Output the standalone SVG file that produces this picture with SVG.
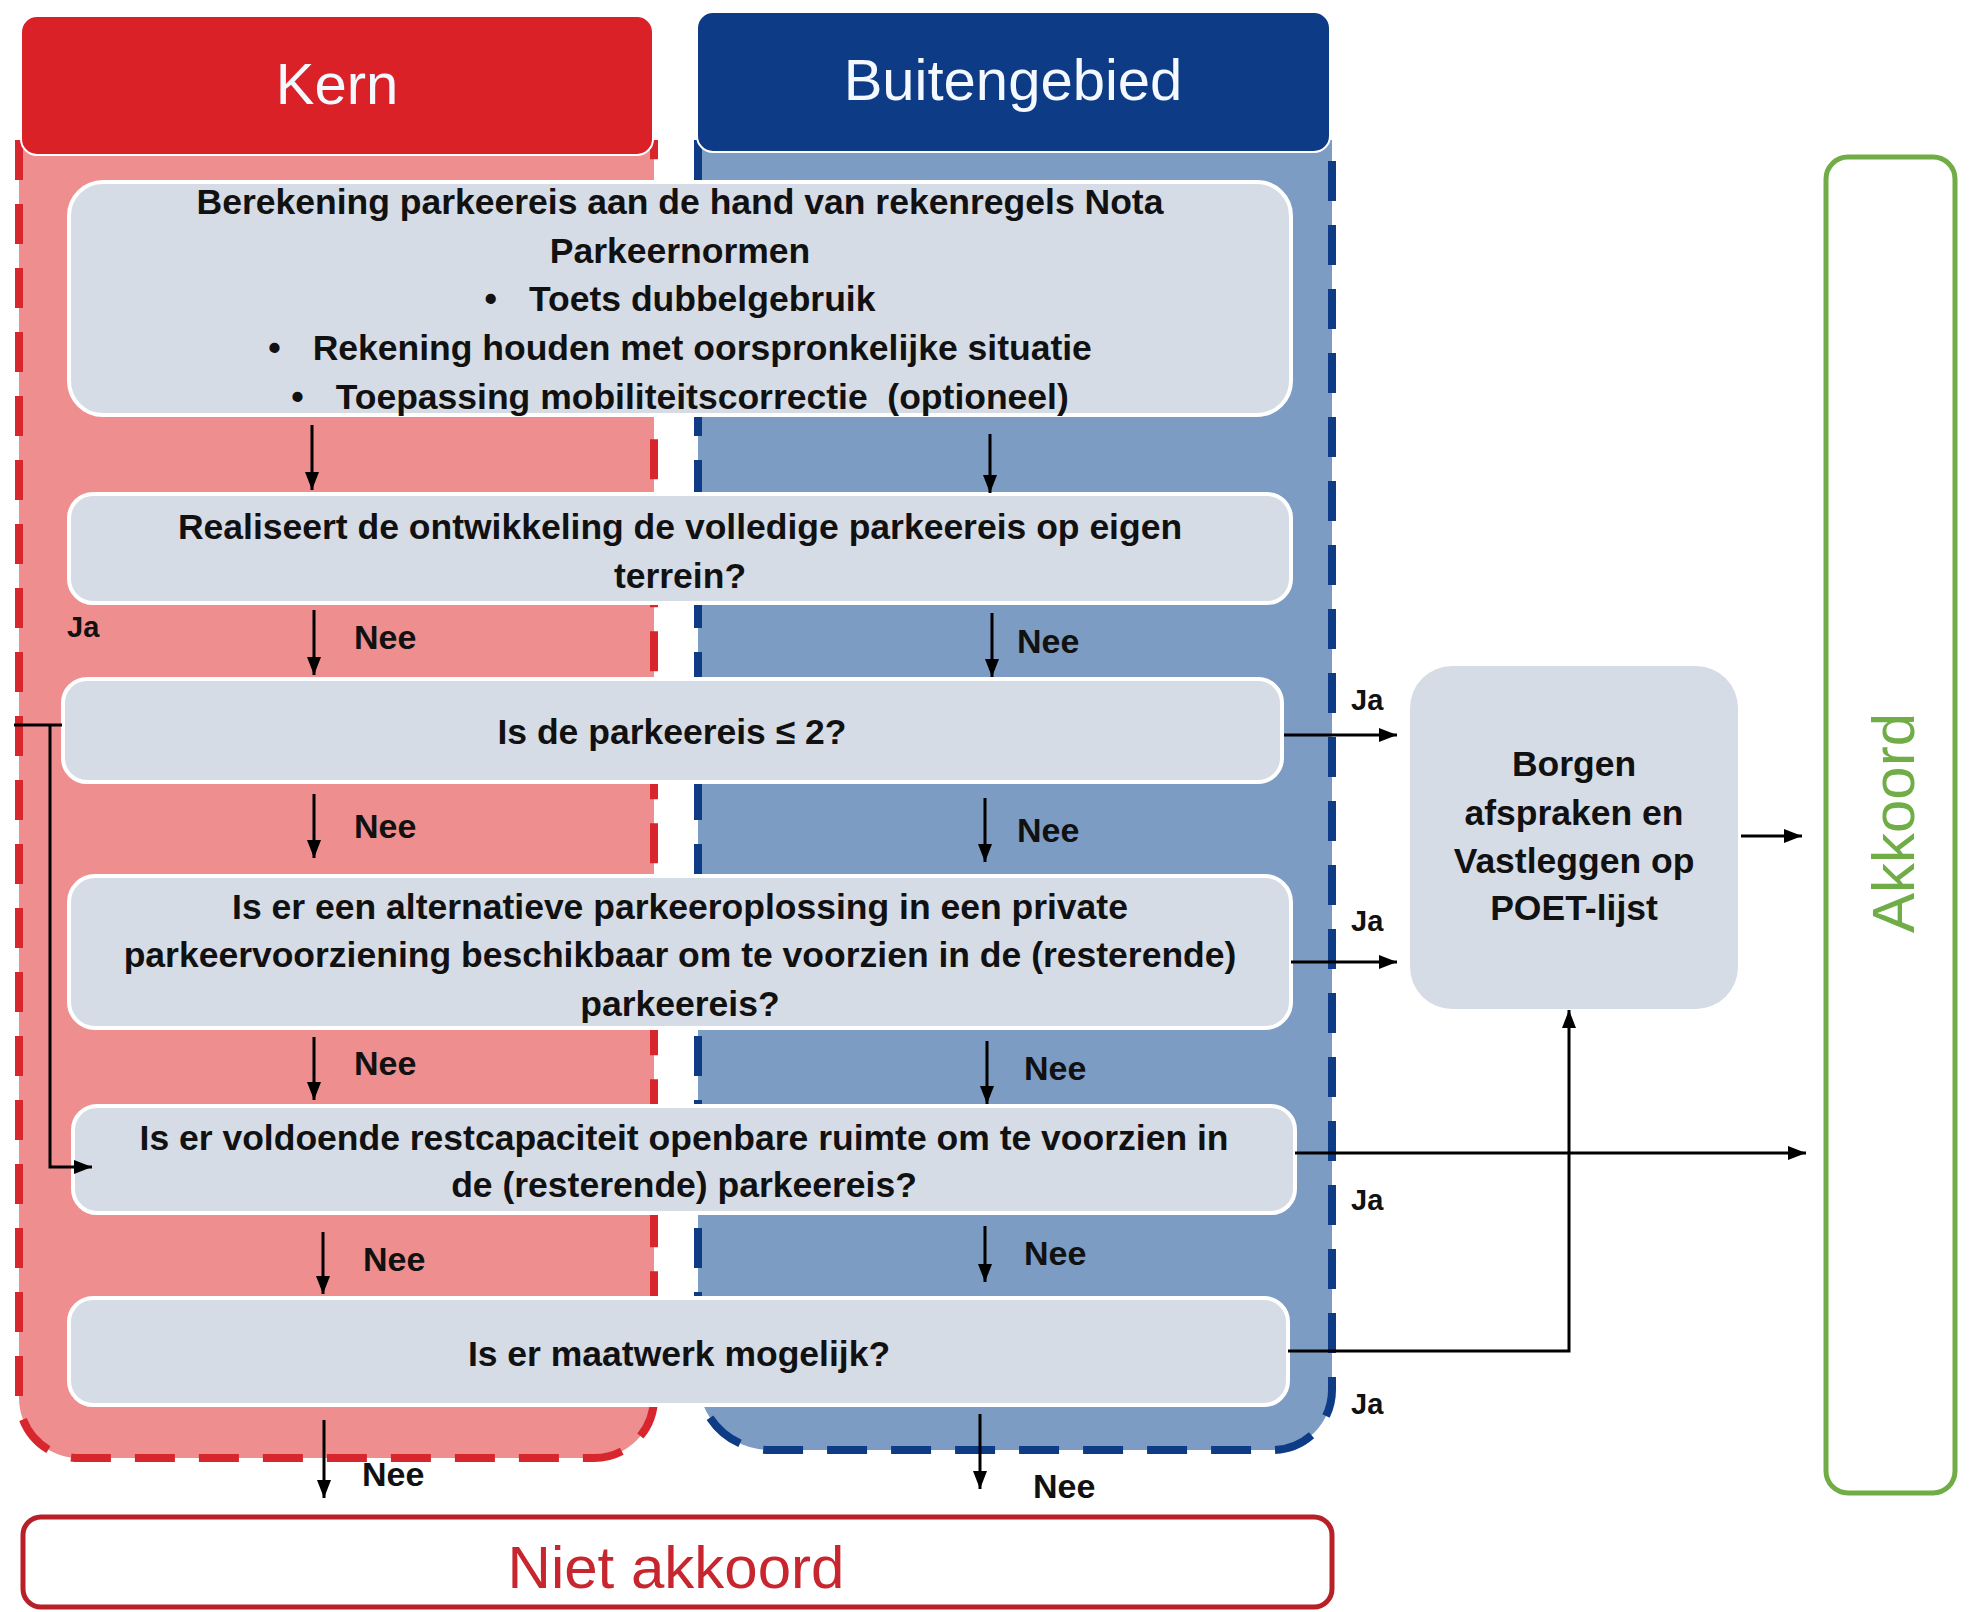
<svg xmlns="http://www.w3.org/2000/svg" width="1971" height="1612" viewBox="0 0 1971 1612">
<defs>
<marker id="ah" markerWidth="18" markerHeight="16" refX="18" refY="8" orient="auto" markerUnits="userSpaceOnUse"><path d="M0,1 L18,8 L0,15 z" fill="#000"/></marker>
</defs>
<style>
.t{font-family:"Liberation Sans",Arial,sans-serif;font-weight:bold;font-size:35.5px;fill:#111;text-anchor:middle}
.lbl{font-family:"Liberation Sans",Arial,sans-serif;font-weight:bold;font-size:34px;fill:#111}
.ja{font-family:"Liberation Sans",Arial,sans-serif;font-weight:bold;font-size:29px;fill:#111}
.hd{font-family:"Liberation Sans",Arial,sans-serif;font-size:58px;fill:#F4F8FF;text-anchor:middle}
.box{fill:#D6DCE6;stroke:#FFFFFF;stroke-width:4}
.c{fill:none;stroke:#000;stroke-width:3;marker-end:url(#ah)}
.cl{fill:none;stroke:#000;stroke-width:3}
</style>
<rect width="1971" height="1612" fill="#FFFFFF"/>

<g id="kern-lane">
<path d="M19,140 V1398 A60,60 0 0 0 79,1458 H594 A60,60 0 0 0 654,1398 V140" fill="#EE8E8E" stroke="#D8262E" stroke-width="8" stroke-dasharray="40 24"/>
<rect x="21" y="16" width="632" height="139" rx="16" fill="#DA2128" stroke="#FFFFFF" stroke-width="2"/>
<text class="hd" x="337" y="104">Kern</text>
</g>

<g id="buiten-lane">
<path d="M698,140 V1378 A72,72 0 0 0 770,1450 H1272 A60,60 0 0 0 1332,1390 V140" fill="#7C9CC4" stroke="#0D3B85" stroke-width="8" stroke-dasharray="40 24"/>
<rect x="697" y="12" width="633" height="140" rx="16" fill="#0D3B85" stroke="#FFFFFF" stroke-width="2"/>
<text class="hd" x="1013" y="100">Buitengebied</text>
</g>

<g id="box1">
<rect class="box" x="69" y="182" width="1222" height="233" rx="34"/>
<text class="t" x="680" y="214">Berekening parkeereis aan de hand van rekenregels Nota</text>
<text class="t" x="680" y="263">Parkeernormen</text>
<text class="t" x="680" y="311">•<tspan dx="32">Toets dubbelgebruik</tspan></text>
<text class="t" x="680" y="360">•<tspan dx="32">Rekening houden met oorspronkelijke situatie</tspan></text>
<text class="t" x="680" y="409" xml:space="preserve">•<tspan dx="32">Toepassing mobiliteitscorrectie  (optioneel)</tspan></text>
</g>

<g id="box2">
<rect class="box" x="69" y="494" width="1222" height="109" rx="24"/>
<text class="t" x="680" y="539">Realiseert de ontwikkeling de volledige parkeereis op eigen</text>
<text class="t" x="680" y="588">terrein?</text>
</g>

<g id="box3">
<rect class="box" x="63" y="679" width="1219" height="103" rx="24"/>
<text class="t" x="672" y="744">Is de parkeereis ≤ 2?</text>
</g>

<g id="box4">
<rect class="box" x="69" y="876" width="1222" height="152" rx="26"/>
<text class="t" x="680" y="919">Is er een alternatieve parkeeroplossing in een private</text>
<text class="t" x="680" y="967">parkeervoorziening beschikbaar om te voorzien in de (resterende)</text>
<text class="t" x="680" y="1016">parkeereis?</text>
</g>

<g id="box5">
<rect class="box" x="73" y="1106" width="1222" height="107" rx="24"/>
<text class="t" x="684" y="1150">Is er voldoende restcapaciteit openbare ruimte om te voorzien in</text>
<text class="t" x="684" y="1197">de (resterende) parkeereis?</text>
</g>

<g id="box6">
<rect class="box" x="69" y="1298" width="1219" height="107" rx="24"/>
<text class="t" x="679" y="1366">Is er maatwerk mogelijk?</text>
</g>

<g id="borgen">
<rect x="1410" y="666" width="328" height="343" rx="42" fill="#D6DCE6"/>
<text class="t" x="1574" y="776">Borgen</text>
<text class="t" x="1574" y="825">afspraken en</text>
<text class="t" x="1574" y="873">Vastleggen op</text>
<text class="t" x="1574" y="920">POET-lijst</text>
</g>

<g id="akkoord">
<rect x="1826" y="157" width="129" height="1336" rx="22" fill="#FFFFFF" stroke="#70AD47" stroke-width="5"/>
<text x="0" y="0" transform="translate(1914,823) rotate(-90)" font-family="Liberation Sans, Arial, sans-serif" font-size="60" fill="#70AD47" text-anchor="middle">Akkoord</text>
</g>

<g id="niet-akkoord">
<rect x="23" y="1517" width="1309" height="90" rx="18" fill="#FFFFFF" stroke="#B82028" stroke-width="5"/>
<text x="676" y="1588" font-family="Liberation Sans, Arial, sans-serif" font-size="60" fill="#C8262E" text-anchor="middle">Niet akkoord</text>
</g>

<g id="connectors">
<line class="c" x1="312" y1="425" x2="312" y2="490"/>
<line class="c" x1="990" y1="434" x2="990" y2="493"/>
<line class="c" x1="314" y1="610" x2="314" y2="675"/>
<line class="c" x1="992" y1="613" x2="992" y2="677"/>
<line class="c" x1="314" y1="794" x2="314" y2="858"/>
<line class="c" x1="985" y1="798" x2="985" y2="862"/>
<line class="c" x1="314" y1="1037" x2="314" y2="1100"/>
<line class="c" x1="987" y1="1041" x2="987" y2="1104"/>
<line class="c" x1="323" y1="1232" x2="323" y2="1294"/>
<line class="c" x1="985" y1="1226" x2="985" y2="1282"/>
<line class="c" x1="324" y1="1420" x2="324" y2="1498"/>
<line class="c" x1="980" y1="1414" x2="980" y2="1489"/>
<line class="c" x1="1284" y1="735" x2="1397" y2="735"/>
<line class="c" x1="1291" y1="962" x2="1397" y2="962"/>
<line class="c" x1="1295" y1="1153" x2="1806" y2="1153"/>
<polyline class="c" points="1288,1351 1569,1351 1569,1010"/>
<line class="c" x1="1741" y1="836" x2="1802" y2="836"/>
<line class="cl" x1="14" y1="725" x2="62" y2="725"/>
<polyline class="c" points="50,725 50,1167 92,1167"/>
</g>

<g id="labels">
<text class="ja" x="67" y="637">Ja</text>
<text class="lbl" x="354" y="649">Nee</text>
<text class="lbl" x="1017" y="653">Nee</text>
<text class="lbl" x="354" y="838">Nee</text>
<text class="lbl" x="1017" y="842">Nee</text>
<text class="lbl" x="354" y="1075">Nee</text>
<text class="lbl" x="1024" y="1080">Nee</text>
<text class="lbl" x="363" y="1271">Nee</text>
<text class="lbl" x="1024" y="1265">Nee</text>
<text class="lbl" x="362" y="1486">Nee</text>
<text class="lbl" x="1033" y="1498">Nee</text>
<text class="ja" x="1351" y="710">Ja</text>
<text class="ja" x="1351" y="931">Ja</text>
<text class="ja" x="1351" y="1210">Ja</text>
<text class="ja" x="1351" y="1414">Ja</text>
</g>
</svg>
